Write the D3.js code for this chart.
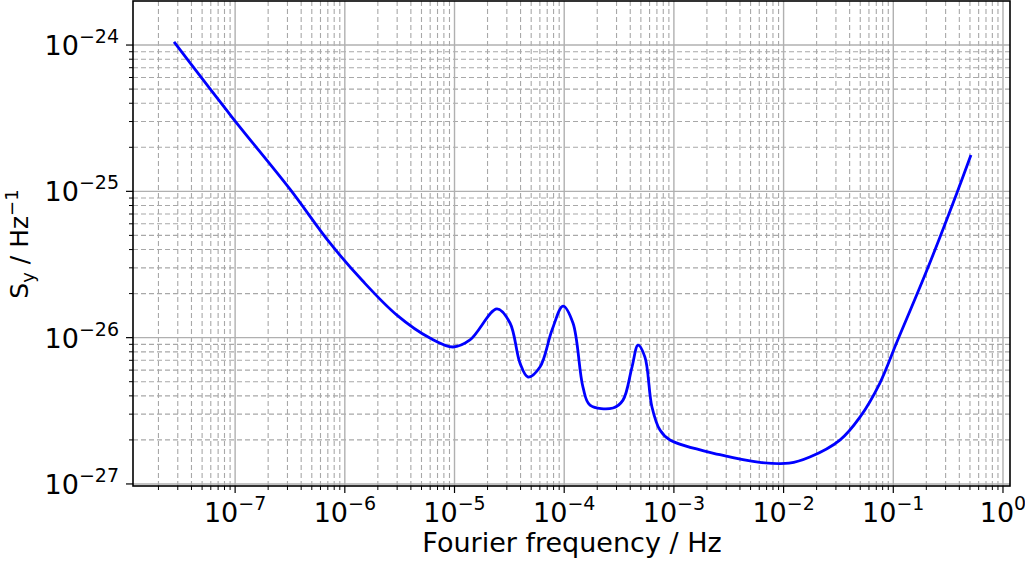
<!DOCTYPE html><html><head><script src="https://cdn.jsdelivr.net/npm/d3@7"></script>
<style>body{margin:0;background:#fff}text{font-family:"DejaVu Sans",sans-serif}</style></head><body>
<svg id="c" width="1025" height="562"></svg>
<script>
const logF=[-7.557,-7.029,-6.50,-6.136,-5.834,-5.525,-5.224,-5.014,-4.859,-4.613,-4.494,-4.403,-4.330,-4.221,-4.111,-4.011,-3.920,-3.829,-3.765,-3.555,-3.464,-3.382,-3.327,-3.264,-3.200,-3.127,-3.036,-2.581,-2.217,-1.95,-1.761,-1.487,-1.304,-1.122,-0.967,-0.693,-0.420,-0.292];
const logS=[-23.979,-24.492,-24.985,-25.353,-25.615,-25.846,-26.003,-26.064,-26.016,-25.804,-25.900,-26.174,-26.269,-26.201,-25.948,-25.784,-25.900,-26.338,-26.461,-26.481,-26.427,-26.201,-26.051,-26.133,-26.474,-26.632,-26.700,-26.800,-26.852,-26.858,-26.816,-26.700,-26.543,-26.310,-26.030,-25.538,-25.011,-24.752];
const xDecades=[-7,-6,-5,-4,-3,-2,-1,0];
const yDecades=[-27,-26,-25,-24];
const svg=d3.select("#c");
const L=133,R=1010,T=1,B=486;
const x=d3.scaleLog().domain([Math.pow(10,-7.931),Math.pow(10,0.064)]).range([L,R]);
const y=d3.scaleLog().domain([Math.pow(10,-27.014),Math.pow(10,-23.699)]).range([B,T]);
const g=svg.append("g");
const xmin=[],ymin=[];
for(let d=-8;d<=0;d++)for(let k=2;k<10;k++){const v=k*Math.pow(10,d);if(v>=x.domain()[0]&&v<=x.domain()[1])xmin.push(v);}
for(let d=-28;d<=-24;d++)for(let k=2;k<10;k++){const v=k*Math.pow(10,d);if(v>=y.domain()[0]&&v<=y.domain()[1])ymin.push(v);}
g.selectAll(".xm").data(xmin).join("line").attr("x1",d=>x(d)).attr("x2",d=>x(d)).attr("y1",T).attr("y2",B).attr("stroke","#a8a8a8").attr("stroke-dasharray","5,3").attr("stroke-width",1.1);
g.selectAll(".ym").data(ymin).join("line").attr("y1",d=>y(d)).attr("y2",d=>y(d)).attr("x1",L).attr("x2",R).attr("stroke","#a8a8a8").attr("stroke-dasharray","5,3").attr("stroke-width",1.1);
const xM=xDecades.map(d=>Math.pow(10,d)),yM=yDecades.map(d=>Math.pow(10,d));
g.selectAll(".xM").data(xM).join("line").attr("x1",d=>x(d)).attr("x2",d=>x(d)).attr("y1",T).attr("y2",B).attr("stroke","#b0b0b0").attr("stroke-width",1.4);
g.selectAll(".yM").data(yM).join("line").attr("y1",d=>y(d)).attr("y2",d=>y(d)).attr("x1",L).attr("x2",R).attr("stroke","#b0b0b0").attr("stroke-width",1.4);
const pts=logF.map((f,i)=>[Math.pow(10,f),Math.pow(10,logS[i])]);
svg.append("path").attr("d",d3.line().x(d=>x(d[0])).y(d=>y(d[1])).curve(d3.curveCatmullRom.alpha(0.5))(pts)).attr("fill","none").attr("stroke","#0000ff").attr("stroke-width",2.8);
svg.append("rect").attr("x",L).attr("y",T).attr("width",R-L).attr("height",B-T).attr("fill","none").attr("stroke","#000").attr("stroke-width",1.6);
svg.selectAll(".xt").data(xM).join("line").attr("x1",d=>x(d)).attr("x2",d=>x(d)).attr("y1",B).attr("y2",B+7).attr("stroke","#000").attr("stroke-width",1.2);
svg.selectAll(".xt2").data(xmin).join("line").attr("x1",d=>x(d)).attr("x2",d=>x(d)).attr("y1",B).attr("y2",B+4).attr("stroke","#000");
svg.selectAll(".yt").data(yM).join("line").attr("y1",d=>y(d)).attr("y2",d=>y(d)).attr("x1",L-7).attr("x2",L).attr("stroke","#000").attr("stroke-width",1.2);
svg.selectAll(".yt2").data(ymin).join("line").attr("y1",d=>y(d)).attr("y2",d=>y(d)).attr("x1",L-4).attr("x2",L).attr("stroke","#000");
const sup=s=>s.replace("-","\u2212");
xDecades.forEach(d=>{const t=svg.append("text").attr("x",x(Math.pow(10,d))).attr("y",522).attr("text-anchor","middle").attr("font-size",27);
 t.append("tspan").text("10");t.append("tspan").attr("dy",-12).attr("font-size",19).text(sup(String(d)));});
yDecades.forEach(d=>{const t=svg.append("text").attr("x",L-14).attr("y",y(Math.pow(10,d))+10).attr("text-anchor","end").attr("font-size",27);
 t.append("tspan").text("10");t.append("tspan").attr("dy",-12).attr("font-size",19).text(sup(String(d)));});
svg.append("text").attr("x",572).attr("y",552).attr("text-anchor","middle").attr("font-size",27).text("Fourier frequency / Hz");
const yl=svg.append("text").attr("transform",`translate(28,244) rotate(-90)`).attr("text-anchor","middle").attr("font-size",25);
yl.append("tspan").text("S");yl.append("tspan").attr("font-size",18).attr("dy",6).text("y");yl.append("tspan").attr("dy",-6).text(" / Hz");yl.append("tspan").attr("font-size",18).attr("dy",-10).text("\u22121");
</script></body></html>
